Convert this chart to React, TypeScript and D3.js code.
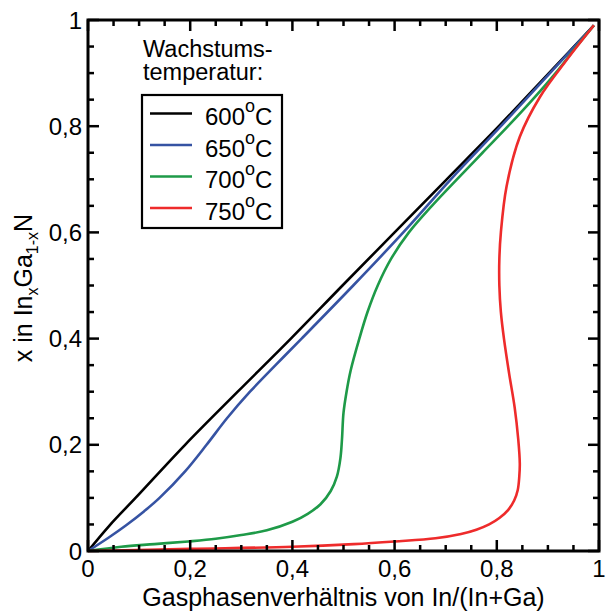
import React from "react";
import * as d3 from "d3";

// Series: solid composition x (y-axis) vs gas phase ratio In/(In+Ga) (x-axis)
const series = ["600", "650", "700", "750"];
const colors = ["#000000", "#3653a3", "#1e9a48", "#ee2b2b"];

const solid600 = [0, 0.048, 0.1, 0.2, 0.3, 0.4, 0.5, 0.6, 0.7, 0.8, 0.9, 0.99];
const gas600 = [0, 0.042, 0.093, 0.19, 0.293, 0.397, 0.498, 0.6, 0.702, 0.804, 0.902, 0.99];

const solid650 = [0, 0.025, 0.048, 0.075, 0.1, 0.15, 0.2, 0.25, 0.3, 0.35, 0.4, 0.5, 0.6, 0.7, 0.8, 0.9, 0.99];
const gas650 = [0, 0.04, 0.074, 0.11, 0.14, 0.19, 0.232, 0.272, 0.317, 0.367, 0.418, 0.519, 0.617, 0.71, 0.808, 0.904, 0.99];

const solid700 = [0, 0.008, 0.013, 0.018, 0.023, 0.03, 0.039, 0.055, 0.07, 0.088, 0.113, 0.14, 0.175, 0.21, 0.26, 0.3, 0.34, 0.4, 0.45, 0.5, 0.55, 0.6, 0.65, 0.7, 0.75, 0.8, 0.85, 0.9, 0.95, 0.99];
const gas700 = [0, 0.065, 0.13, 0.196, 0.25, 0.3, 0.35, 0.4, 0.43, 0.455, 0.475, 0.487, 0.494, 0.497, 0.5, 0.506, 0.514, 0.531, 0.547, 0.567, 0.593, 0.628, 0.673, 0.722, 0.772, 0.822, 0.87, 0.915, 0.956, 0.99];

const solid750 = [0, 0.004, 0.008, 0.013, 0.018, 0.024, 0.032, 0.04, 0.05, 0.062, 0.077, 0.095, 0.115, 0.14, 0.165, 0.21, 0.27, 0.335, 0.4, 0.45, 0.5, 0.55, 0.6, 0.686, 0.78, 0.856, 0.925, 0.99];
const gas750 = [0, 0.2, 0.4, 0.52, 0.6, 0.68, 0.73, 0.76, 0.785, 0.805, 0.822, 0.834, 0.841, 0.844, 0.845, 0.842, 0.835, 0.824, 0.814, 0.808, 0.805, 0.805, 0.808, 0.819, 0.845, 0.885, 0.937, 0.99];

const solidArrays = [solid600, solid650, solid700, solid750];
const gasArrays = [gas600, gas650, gas700, gas750];

const majorTicks = [0, 0.2, 0.4, 0.6, 0.8, 1];
const tickLabels = ["0", "0,2", "0,4", "0,6", "0,8", "1"];
const minorTicks = d3.range(0, 1.0001, 0.05);

const legendTitle = ["Wachstums-", "temperatur:"];
const xTitle = "Gasphasenverhältnis von In/(In+Ga)";

const W = 611, H = 611;
const L = 88, R = 599, T = 20, B = 551;
const FONT = "'Liberation Sans', Arial, sans-serif";

export default function App() {
  const x = d3.scaleLinear().domain([0, 1]).range([L, R]);
  const y = d3.scaleLinear().domain([0, 1]).range([B, T]);
  const line = d3
    .line<[number, number]>()
    .x((d) => x(d[0]))
    .y((d) => y(d[1]))
    .curve(d3.curveCatmullRom.alpha(0.5));

  const tickW = 2.5;
  const majLen = 11, minLen = 6;

  return (
    <svg width={W} height={H} style={{ position: "absolute", left: 0, top: 0, background: "#fff" }} fontFamily={FONT}>
      {/* curves */}
      {series.map((s, i) => {
        const pts: [number, number][] = gasArrays[i].map((g, k) => [g, solidArrays[i][k]]);
        return <path key={s} d={line(pts) || ""} fill="none" stroke={colors[i]} strokeWidth={2.6} strokeLinejoin="round" />;
      })}

      {/* ticks on all four sides */}
      {minorTicks.map((t, i) => {
        const isMajor = Math.abs(t * 5 - Math.round(t * 5)) < 1e-6;
        const len = isMajor ? majLen : minLen;
        return (
          <g key={"t" + i} stroke="#000" strokeWidth={tickW}>
            <line x1={x(t)} x2={x(t)} y1={B} y2={B - len} />
            <line x1={x(t)} x2={x(t)} y1={T} y2={T + len} />
            <line x1={L} x2={L + len} y1={y(t)} y2={y(t)} />
            <line x1={R} x2={R - len} y1={y(t)} y2={y(t)} />
          </g>
        );
      })}

      {/* frame */}
      <rect x={L} y={T} width={R - L} height={B - T} fill="none" stroke="#000" strokeWidth={3} />

      {/* tick labels */}
      {majorTicks.map((t, i) => (
        <text key={"xl" + i} x={x(t)} y={577} fontSize={24} textAnchor="middle" fill="#000">
          {tickLabels[i]}
        </text>
      ))}
      {majorTicks.map((t, i) => (
        <text key={"yl" + i} x={82} y={y(t) + 8.5} fontSize={24} textAnchor="end" fill="#000">
          {tickLabels[i]}
        </text>
      ))}

      {/* axis titles */}
      <text x={(L + R) / 2} y={606} fontSize={25} textAnchor="middle" fill="#000">
        {xTitle}
      </text>
      <text transform={`translate(32, 288) rotate(-90)`} fontSize={25} textAnchor="middle" fill="#000">
        x in In
        <tspan fontSize={16} dy={6}>x</tspan>
        <tspan dy={-6}>Ga</tspan>
        <tspan fontSize={16} dy={6}>1-x</tspan>
        <tspan dy={-6}>N</tspan>
      </text>

      {/* legend */}
      {legendTitle.map((t, i) => (
        <text key={"lt" + i} x={143} y={57 + i * 23} fontSize={23.5} fill="#000">
          {t}
        </text>
      ))}
      <rect x={142} y={95} width={140} height={133} fill="#fff" stroke="#000" strokeWidth={2.2} />
      {series.map((s, i) => {
        const ly = 113.5 + i * 31.5;
        return (
          <g key={"lg" + i}>
            <line x1={150} x2={192} y1={ly} y2={ly} stroke={colors[i]} strokeWidth={2.6} />
            <text x={205} y={ly + 11.7} fontSize={24} fill="#000">
              {s}
              <tspan fontSize={18} dy={-13}>o</tspan>
              <tspan dy={13}>C</tspan>
            </text>
          </g>
        );
      })}
    </svg>
  );
}
